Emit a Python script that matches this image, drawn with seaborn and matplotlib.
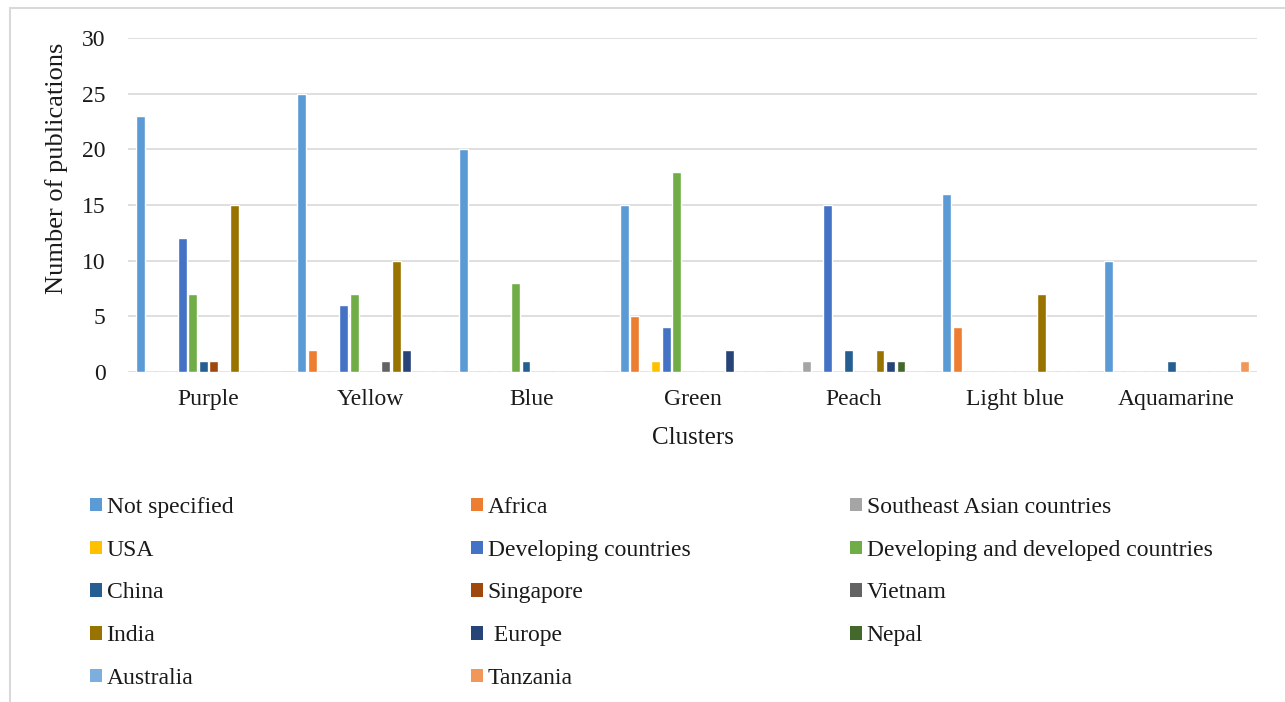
import pandas as pd
import matplotlib.pyplot as plt
import seaborn as sns
from matplotlib.patches import Patch, Rectangle

clusters = ['Purple', 'Yellow', 'Blue', 'Green', 'Peach', 'Light blue', 'Aquamarine']

# publications per region, one value per cluster
not_specified = [23, 25, 20, 15, 0, 16, 10]
africa = [0, 2, 0, 5, 0, 4, 0]
southeast_asian = [0, 0, 0, 0, 1, 0, 0]
usa = [0, 0, 0, 1, 0, 0, 0]
developing = [12, 6, 0, 4, 15, 0, 0]
dev_and_developed = [7, 7, 8, 18, 0, 0, 0]
china = [1, 0, 1, 0, 2, 0, 1]
singapore = [1, 0, 0, 0, 0, 0, 0]
vietnam = [0, 1, 0, 0, 0, 0, 0]
india = [15, 10, 0, 0, 2, 7, 0]
europe = [0, 2, 0, 2, 1, 0, 0]
nepal = [0, 0, 0, 0, 1, 0, 0]
australia = [0, 0, 0, 0, 0, 0, 0]
tanzania = [0, 0, 0, 0, 0, 0, 1]

regions = ['Not specified', 'Africa', 'Southeast Asian countries', 'USA',
           'Developing countries', 'Developing and developed countries',
           'China', 'Singapore', 'Vietnam', 'India', ' Europe', 'Nepal',
           'Australia', 'Tanzania']
series = [not_specified, africa, southeast_asian, usa, developing,
          dev_and_developed, china, singapore, vietnam, india, europe,
          nepal, australia, tanzania]
colors = ['#5B9BD5', '#ED7D31', '#A5A5A5', '#FFC000', '#4472C4', '#70AD47',
          '#255E91', '#9E480E', '#636363', '#997300', '#264478', '#43682B',
          '#7CAFDD', '#F1975A']

rows = []
for reg, vals in zip(regions, series):
    for cl, v in zip(clusters, vals):
        rows.append({'cluster': cl, 'region': reg, 'count': v})
df = pd.DataFrame(rows)

sns.set_style('white')
plt.rcParams['font.family'] = ['Liberation Serif', 'DejaVu Serif']
txt = '#1a1a1a'

fig = plt.figure(figsize=(12.85, 7.02), dpi=100)
ax = fig.add_axes([128 / 1285, 1 - 372 / 702, 1129 / 1285, 334 / 702])

sns.barplot(data=df, x='cluster', y='count', hue='region', order=clusters,
            hue_order=regions, palette=colors, errorbar=None, width=0.91,
            gap=0.15, saturation=1, legend=False, ax=ax)

ax.set_ylim(0, 30)
ax.set_xlim(-0.5, 6.5)
ax.set_yticks(range(0, 31, 5))
ax.yaxis.grid(True, color='#D9D9D9', linewidth=1.2)
ax.set_axisbelow(True)
sns.despine(ax=ax, left=True, bottom=True)
ax.tick_params(axis='both', length=0, labelsize=17, labelcolor=txt)
ax.tick_params(axis='y', pad=16)
ax.tick_params(axis='x', pad=12)

ax.set_xlabel('Clusters', fontsize=18, color=txt)
ax.set_ylabel('Number of publications', fontsize=19, color=txt)
ax.xaxis.set_label_coords(0.5, -0.165)
ax.yaxis.set_label_coords(-0.053, 0.61)

# legend: three columns, laid out row by row like the original
handles = [Patch(facecolor=c, edgecolor='none') for c in colors]
col_x = [90, 471, 850]
for k in range(3):
    idx = list(range(k, len(regions), 3))
    leg = fig.legend([handles[i] for i in idx], [regions[i] for i in idx],
                     loc='upper left', bbox_to_anchor=(col_x[k] / 1285, 1 - 497 / 702),
                     frameon=False, fontsize=17, handlelength=0.5, handleheight=0.5,
                     handletextpad=0.2, labelspacing=0.92, borderpad=0, borderaxespad=0)
    for t in leg.get_texts():
        t.set_color(txt)

# light frame around the chart area
fig.add_artist(Rectangle((10 / 1285, -0.05), 1.1, 1 - 8 / 702 + 0.05,
                         transform=fig.transFigure, fill=False,
                         edgecolor='#D9D9D9', linewidth=1.5))

fig.savefig('out.png', dpi=100)
